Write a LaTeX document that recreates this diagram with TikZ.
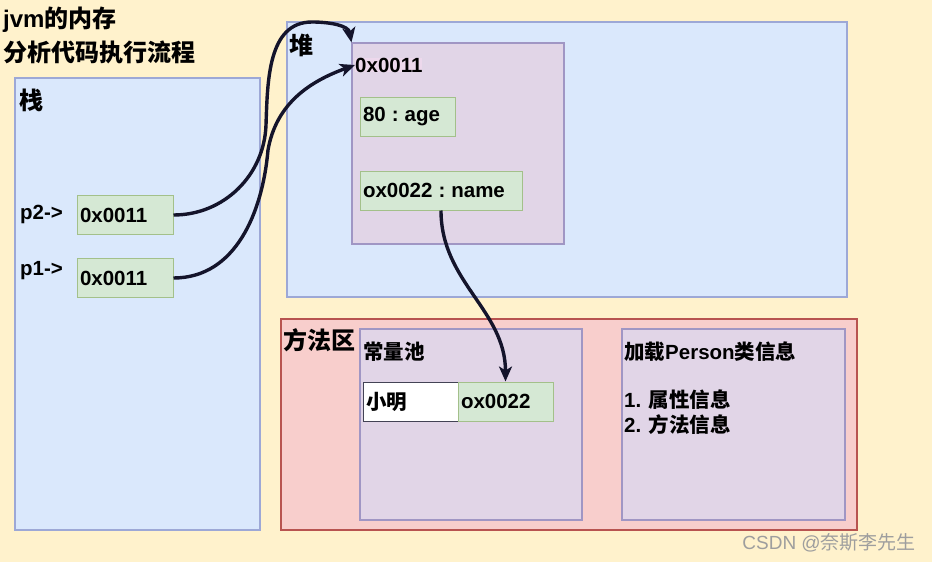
\documentclass[tikz,border=0pt]{standalone}
\usepackage{fontspec}
\setmainfont{Liberation Sans}
\newfontfamily\cjk{Noto Sans CJK SC}
\usetikzlibrary{positioning,arrows.meta}
\definecolor{paper}{HTML}{FFF2CC}
\definecolor{bluefill}{HTML}{DAE8FC}
\definecolor{blueline}{HTML}{9DA8D6}
\definecolor{lilacfill}{HTML}{E1D5E7}
\definecolor{lilacline}{HTML}{A096C4}
\definecolor{redfill}{HTML}{F8CECC}
\definecolor{redline}{HTML}{B85450}
\definecolor{greenfill}{HTML}{D5E8D4}
\definecolor{greenline}{HTML}{A3C08A}
\definecolor{tagfill}{HTML}{EDD8EC}
\definecolor{ink}{HTML}{14142B}
\newcommand{\zh}[1]{{\cjk #1}}
\newcommand{\kv}{\hspace{6pt}:\hspace{6pt}}
\tikzset{
  region/.style={draw=blueline, fill=bluefill, line width=1.1pt, inner sep=0pt},
  methodregion/.style={draw=redline, fill=redfill, line width=1.1pt, inner sep=0pt},
  objbox/.style={draw=lilacline, fill=lilacfill, line width=1.1pt, inner sep=0pt},
  cell/.style={draw=greenline, fill=greenfill, line width=1pt, inner xsep=3pt, align=left, minimum height=39pt},
  plaincell/.style={draw=ink!80, fill=white, line width=1pt, inner xsep=3pt, align=left, minimum height=39pt},
  tag/.style={anchor=west, inner sep=0pt, align=left},
  head/.style={tag, font=\bfseries\fontsize{24}{28}\selectfont},
  ptr/.style={-{Stealth[length=15pt,width=13pt,inset=4pt]}, line width=3.4pt, draw=ink}
}

\begin{document}
\begin{tikzpicture}[font=\bfseries\fontsize{20.5}{25}\selectfont, x=1pt, y=1pt]
  \useasboundingbox (0,0) rectangle (932,-562);
  \fill[paper] (0,0) rectangle (932,-562);

  % title
  \node[head] (title1) at (3,-20) {jvm\zh{的内存}};
  \node[head] (title2) at (3,-52) {\zh{分析代码执行流程}};

  % stack
  \node[region, minimum width=245pt, minimum height=452pt] (stack) at (137.5,-304) {};
  \node[head] (stacklbl) at (19,-100) {\zh{栈}};
  \node[tag] (p2lbl) at (20,-214) {p2->};
  \node[tag] (p1lbl) at (20,-271) {p1->};
  \node[cell, text width=90pt] (p2) at (125,-215) {0x0011};
  \node[cell, text width=90pt] (p1) at (125,-278) {0x0011};

  % heap
  \node[region, minimum width=560pt, minimum height=275pt] (heap) at (567,-159.5) {};
  \node[head] (heaplbl) at (289,-45) {\zh{堆}};
  \node[objbox, minimum width=212pt, minimum height=201pt] (obj) at (458,-143.5) {};
  \node[tag, fill=tagfill] (objtag) at (355,-65) {0x0011};
  \node[cell, text width=89pt] (age) at (407.5,-116.5) {80\kv age};
  \node[cell, text width=156pt] (name) at (441,-190.5) {ox0022\kv name};

  % method area
  \node[methodregion, minimum width=576pt, minimum height=211pt] (method) at (569,-424.5) {};
  \node[head] (methodlbl) at (283,-340) {\zh{方法区}};
  \node[objbox, minimum width=222pt, minimum height=191pt] (pool) at (471,-424.5) {};
  \node[tag] (poollbl) at (363,-352) {\zh{常量池}};
  \node[plaincell, text width=89pt] (xm) at (410.5,-401.5) {\zh{小明}};
  \node[cell, text width=89pt] (ref) at (505.5,-401.5) {ox0022};
  \node[objbox, minimum width=223pt, minimum height=191pt] (klass) at (733.5,-424.5) {};
  \node[tag] (klasslbl) at (624,-352) {\zh{加载}Person\zh{类信息}};
  \node[tag] (item1) at (624,-400) {1. \zh{属性信息}};
  \node[tag] (item2) at (624,-425) {2. \zh{方法信息}};

  \node[anchor=east, inner sep=0pt, text=black!38, font=\mdseries\fontsize{19}{22}\selectfont] (mark) at (916,-543) {CSDN @\zh{奈斯李先生}};

  % references
  \coordinate (hop2) at (266,-125);
  \coordinate (top2) at (312,-22);
  \coordinate (hop1) at (268,-150);
  \draw[ptr] (p2.east) to[out=0,in=-92] (hop2) to[out=88,in=180] (top2) to[out=0,in=100] (obj.north west);
  \draw[ptr] (p1.east) to[out=0,in=-95] (hop1) to[out=80,in=200] (objtag.west);
  \draw[ptr] (name.south) to[out=-90,in=90] (ref.north);
\end{tikzpicture}
\end{document}
